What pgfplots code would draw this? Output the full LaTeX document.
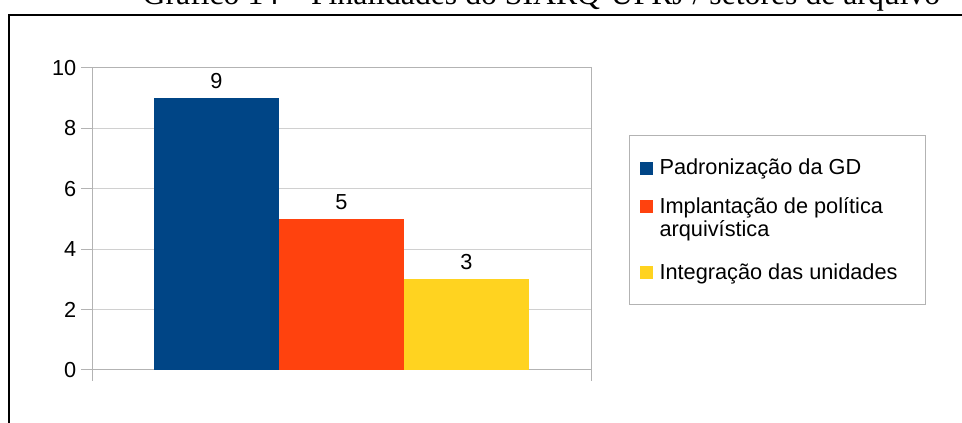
\documentclass[border=0pt]{standalone}
\usepackage{pgfplots}
\pgfplotsset{compat=1.18}
\usepackage{fontspec}
\setmainfont{Liberation Sans}
\newfontfamily\titlefont{Liberation Serif}

\definecolor{cblue}{HTML}{004586}
\definecolor{corange}{HTML}{FF420E}
\definecolor{cyellow}{HTML}{FFD320}
\definecolor{axgray}{HTML}{B3B3B3}
\definecolor{grgray}{HTML}{D0D0D0}

\newcommand{\chartfont}{\fontsize{16.3}{17.25}\selectfont}
\newcommand{\lgline}[1]{\hbox to 192pt{\strut #1\hfil}}

% square legend marks; the deep one makes room for a two-line entry
\pgfplotsset{
  sqimg/.style={legend image code/.code={\fill[##1,draw=none] (0pt,0pt) rectangle (9.75pt,9.75pt);}},
  sqimgdeep/.style={legend image code/.code={\fill[##1,draw=none] (0pt,0pt) rectangle (9.75pt,9.75pt);
      \path (0pt,-22.4pt);}},
}

\begin{document}
\begin{tikzpicture}[x=0.75pt,y=0.75pt]
\useasboundingbox (0,0) rectangle (962,423);
\clip (0,0) rectangle (962,423);

% title, cut by the top edge as in the scan
\node[anchor=base, inner sep=0pt, font=\titlefont\fontsize{23.8}{28}\selectfont]
  at (541.5,418) {Gráfico 14 – Finalidades do SIARQ-UFRJ / setores de arquivo};
% frame
\draw[line width=1.5pt] (9,-20) -- (9,408) -- (990,408);

\begin{axis}[
    at={(69pt,39.75pt)}, anchor=south west,
    width=374.25pt, height=226.5pt, scale only axis,
    ybar, ybar=0pt, bar width=93.75pt,
    xmin=-1, xmax=1, ymin=0, ymax=10,
    xtick={-1,1}, xticklabels={,,},
    ytick={0,2,...,10},
    xtick pos=bottom, ytick pos=left,
    tick align=outside, major tick length=8.25pt,
    tick style={axgray, line width=0.75pt},
    axis line style={axgray, line width=0.75pt},
    ymajorgrids, major grid style={grgray, line width=0.75pt},
    ticklabel style={font=\chartfont},
    /pgf/number format/assume math mode=true,
    nodes near coords,
    every node near coord/.append style={font=\chartfont, yshift=3.5pt},
    legend style={at={(1.0762,0.7781)}, anchor=north west,
      draw=axgray, line width=0.75pt,
      inner xsep=7.5pt, inner ysep=17.5pt,
      row sep=15pt, column sep=5.25pt,
      font=\chartfont,
      nodes={inner sep=0pt},
      cells={anchor=base west}},
    sqimg,
]
\addplot[fill=cblue, draw=none] coordinates {(0,9)};
\addlegendentry{\lgline{Padronização da GD}}
\addplot[fill=corange, draw=none, sqimgdeep] coordinates {(0,5)};
\addlegendentry{\vtop{\lgline{Implantação de política}\lgline{arquivística}}}
\addplot[fill=cyellow, draw=none] coordinates {(0,3)};
\addlegendentry{\lgline{Integração das unidades}}
\end{axis}
\end{tikzpicture}
\end{document}
